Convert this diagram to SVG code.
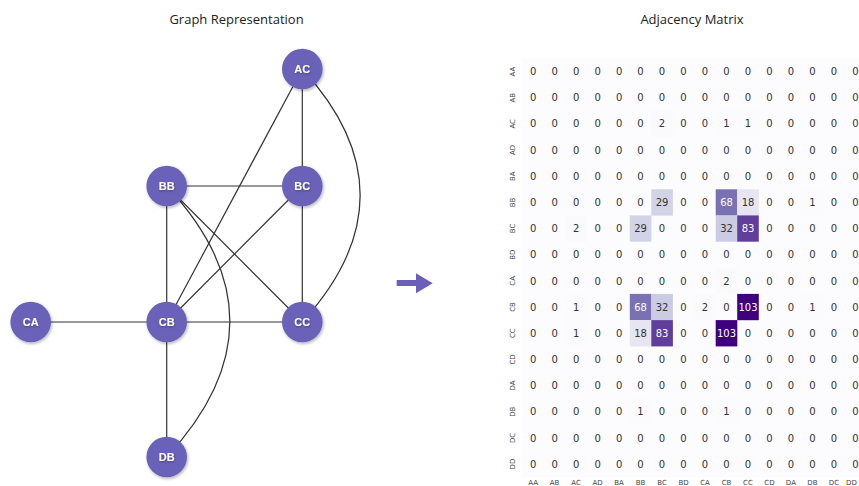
<svg xmlns="http://www.w3.org/2000/svg" width="859" height="486" viewBox="0 0 859 486">
<defs>
<filter id="sh" x="-50%" y="-50%" width="200%" height="200%"><feDropShadow dx="1" dy="1.5" stdDeviation="1.5" flood-color="#000" flood-opacity="0.3"/></filter>
<filter id="tsh" x="-50%" y="-50%" width="200%" height="200%"><feDropShadow dx="0.5" dy="1" stdDeviation="1" flood-color="#000" flood-opacity="0.35"/></filter>
</defs>
<style>
.title{font-family:"Open Sans","Liberation Sans",sans-serif;font-size:13px;fill:#222;text-anchor:middle}
.node circle{fill:#6b62b8;filter:url(#sh)}
.node text{font-family:"Liberation Sans",Arial,sans-serif;font-weight:bold;font-size:11px;fill:#fff;text-anchor:middle;filter:url(#tsh)}
.edge{stroke:#333;stroke-width:1.2;fill:none}
.num{font-family:"DejaVu Sans",sans-serif;font-size:10px;fill:#333;text-anchor:middle}
.w{fill:#fff}
.lab{font-family:"DejaVu Sans",sans-serif;font-size:7px;fill:#444;text-anchor:middle}
</style>
<rect width="859" height="486" fill="#fff"/>
<text class="title" x="236.5" y="24">Graph Representation</text>
<text class="title" x="692" y="24">Adjacency Matrix</text>

<g id="connectors">
<line class="edge" x1="302.3" y1="69" x2="302.3" y2="186"/>
<line class="edge" x1="302.3" y1="69" x2="166.7" y2="322"/>
<path class="edge" d="M302.3,69 Q418,195 302.3,322"/>
<line class="edge" x1="166.7" y1="186" x2="302.3" y2="186"/>
<line class="edge" x1="166.7" y1="186" x2="166.7" y2="322"/>
<line class="edge" x1="166.7" y1="186" x2="302.3" y2="322"/>
<path class="edge" d="M166.7,186 Q293,321 166.7,457"/>
<line class="edge" x1="302.3" y1="186" x2="166.7" y2="322"/>
<line class="edge" x1="302.3" y1="186" x2="302.3" y2="322"/>
<line class="edge" x1="30.7" y1="322" x2="166.7" y2="322"/>
<line class="edge" x1="166.7" y1="322" x2="302.3" y2="322"/>
<line class="edge" x1="166.7" y1="322" x2="166.7" y2="457"/>
</g>

<g id="AC" class="node"><circle cx="302.3" cy="69" r="20.3"/><text x="302.3" y="73.2">AC</text></g>
<g id="BB" class="node"><circle cx="166.7" cy="186" r="20.3"/><text x="166.7" y="190.2">BB</text></g>
<g id="BC" class="node"><circle cx="302.3" cy="186" r="20.3"/><text x="302.3" y="190.2">BC</text></g>
<g id="CA" class="node"><circle cx="30.7" cy="322" r="20.3"/><text x="30.7" y="326.2">CA</text></g>
<g id="CB" class="node"><circle cx="166.7" cy="322" r="20.3"/><text x="166.7" y="326.2">CB</text></g>
<g id="CC" class="node"><circle cx="302.3" cy="322" r="20.3"/><text x="302.3" y="326.2">CC</text></g>
<g id="DB" class="node"><circle cx="166.7" cy="457" r="20.3"/><text x="166.7" y="461.2">DB</text></g>

<g id="arrow" fill="#6a5fba">
<rect x="396.7" y="280" width="20" height="6"/>
<polygon points="416,273.3 432.7,283.2 416,293.3"/>
</g>

<g id="matrix">
<rect x="522.4" y="58.4" width="344" height="418.7" fill="#fcfbfd"/>
<g>
<rect x="651.3" y="110.7" width="21.6" height="26.3" fill="#faf9fc"/>
<rect x="715.7" y="110.7" width="21.6" height="26.3" fill="#fbfafc"/>
<rect x="737.2" y="110.7" width="21.6" height="26.3" fill="#fbfafc"/>
<rect x="651.3" y="189.3" width="21.6" height="26.3" fill="#d2d3e7"/>
<rect x="715.7" y="189.3" width="21.6" height="26.3" fill="#7a71b4"/>
<rect x="737.2" y="189.3" width="21.6" height="26.3" fill="#e7e5f1"/>
<rect x="801.6" y="189.3" width="21.6" height="26.3" fill="#fbfafc"/>
<rect x="565.4" y="215.4" width="21.6" height="26.3" fill="#faf9fc"/>
<rect x="629.8" y="215.4" width="21.6" height="26.3" fill="#d2d3e7"/>
<rect x="715.7" y="215.4" width="21.6" height="26.3" fill="#cbcce4"/>
<rect x="737.2" y="215.4" width="21.6" height="26.3" fill="#603e9a"/>
<rect x="715.7" y="267.8" width="21.6" height="26.3" fill="#faf9fc"/>
<rect x="565.4" y="293.9" width="21.6" height="26.3" fill="#fbfafc"/>
<rect x="629.8" y="293.9" width="21.6" height="26.3" fill="#7a71b4"/>
<rect x="651.3" y="293.9" width="21.6" height="26.3" fill="#cbcce4"/>
<rect x="694.2" y="293.9" width="21.6" height="26.3" fill="#faf9fc"/>
<rect x="737.2" y="293.9" width="21.6" height="26.3" fill="#3f007d"/>
<rect x="801.6" y="293.9" width="21.6" height="26.3" fill="#fbfafc"/>
<rect x="565.4" y="320.1" width="21.6" height="26.3" fill="#fbfafc"/>
<rect x="629.8" y="320.1" width="21.6" height="26.3" fill="#e7e5f1"/>
<rect x="651.3" y="320.1" width="21.6" height="26.3" fill="#603e9a"/>
<rect x="715.7" y="320.1" width="21.6" height="26.3" fill="#3f007d"/>
<rect x="629.8" y="398.6" width="21.6" height="26.3" fill="#fbfafc"/>
<rect x="715.7" y="398.6" width="21.6" height="26.3" fill="#fbfafc"/>
</g>
<g class="num">
<text y="75.1"><tspan x="533.1">0</tspan><tspan x="554.6">0</tspan><tspan x="576.1">0</tspan><tspan x="597.6">0</tspan><tspan x="619.1">0</tspan><tspan x="640.5">0</tspan><tspan x="662">0</tspan><tspan x="683.5">0</tspan><tspan x="705">0</tspan><tspan x="726.5">0</tspan><tspan x="748">0</tspan><tspan x="769.4">0</tspan><tspan x="790.9">0</tspan><tspan x="812.4">0</tspan><tspan x="833.9">0</tspan><tspan x="855.4">0</tspan></text>
<text y="101.3"><tspan x="533.1">0</tspan><tspan x="554.6">0</tspan><tspan x="576.1">0</tspan><tspan x="597.6">0</tspan><tspan x="619.1">0</tspan><tspan x="640.5">0</tspan><tspan x="662">0</tspan><tspan x="683.5">0</tspan><tspan x="705">0</tspan><tspan x="726.5">0</tspan><tspan x="748">0</tspan><tspan x="769.4">0</tspan><tspan x="790.9">0</tspan><tspan x="812.4">0</tspan><tspan x="833.9">0</tspan><tspan x="855.4">0</tspan></text>
<text y="127.4"><tspan x="533.1">0</tspan><tspan x="554.6">0</tspan><tspan x="576.1">0</tspan><tspan x="597.6">0</tspan><tspan x="619.1">0</tspan><tspan x="640.5">0</tspan><tspan x="662">2</tspan><tspan x="683.5">0</tspan><tspan x="705">0</tspan><tspan x="726.5">1</tspan><tspan x="748">1</tspan><tspan x="769.4">0</tspan><tspan x="790.9">0</tspan><tspan x="812.4">0</tspan><tspan x="833.9">0</tspan><tspan x="855.4">0</tspan></text>
<text y="153.6"><tspan x="533.1">0</tspan><tspan x="554.6">0</tspan><tspan x="576.1">0</tspan><tspan x="597.6">0</tspan><tspan x="619.1">0</tspan><tspan x="640.5">0</tspan><tspan x="662">0</tspan><tspan x="683.5">0</tspan><tspan x="705">0</tspan><tspan x="726.5">0</tspan><tspan x="748">0</tspan><tspan x="769.4">0</tspan><tspan x="790.9">0</tspan><tspan x="812.4">0</tspan><tspan x="833.9">0</tspan><tspan x="855.4">0</tspan></text>
<text y="179.8"><tspan x="533.1">0</tspan><tspan x="554.6">0</tspan><tspan x="576.1">0</tspan><tspan x="597.6">0</tspan><tspan x="619.1">0</tspan><tspan x="640.5">0</tspan><tspan x="662">0</tspan><tspan x="683.5">0</tspan><tspan x="705">0</tspan><tspan x="726.5">0</tspan><tspan x="748">0</tspan><tspan x="769.4">0</tspan><tspan x="790.9">0</tspan><tspan x="812.4">0</tspan><tspan x="833.9">0</tspan><tspan x="855.4">0</tspan></text>
<text y="206"><tspan x="533.1">0</tspan><tspan x="554.6">0</tspan><tspan x="576.1">0</tspan><tspan x="597.6">0</tspan><tspan x="619.1">0</tspan><tspan x="640.5">0</tspan><tspan x="662">29</tspan><tspan x="683.5">0</tspan><tspan x="705">0</tspan><tspan x="726.5" class="w">68</tspan><tspan x="748">18</tspan><tspan x="769.4">0</tspan><tspan x="790.9">0</tspan><tspan x="812.4">1</tspan><tspan x="833.9">0</tspan><tspan x="855.4">0</tspan></text>
<text y="232.1"><tspan x="533.1">0</tspan><tspan x="554.6">0</tspan><tspan x="576.1">2</tspan><tspan x="597.6">0</tspan><tspan x="619.1">0</tspan><tspan x="640.5">29</tspan><tspan x="662">0</tspan><tspan x="683.5">0</tspan><tspan x="705">0</tspan><tspan x="726.5">32</tspan><tspan x="748" class="w">83</tspan><tspan x="769.4">0</tspan><tspan x="790.9">0</tspan><tspan x="812.4">0</tspan><tspan x="833.9">0</tspan><tspan x="855.4">0</tspan></text>
<text y="258.3"><tspan x="533.1">0</tspan><tspan x="554.6">0</tspan><tspan x="576.1">0</tspan><tspan x="597.6">0</tspan><tspan x="619.1">0</tspan><tspan x="640.5">0</tspan><tspan x="662">0</tspan><tspan x="683.5">0</tspan><tspan x="705">0</tspan><tspan x="726.5">0</tspan><tspan x="748">0</tspan><tspan x="769.4">0</tspan><tspan x="790.9">0</tspan><tspan x="812.4">0</tspan><tspan x="833.9">0</tspan><tspan x="855.4">0</tspan></text>
<text y="284.5"><tspan x="533.1">0</tspan><tspan x="554.6">0</tspan><tspan x="576.1">0</tspan><tspan x="597.6">0</tspan><tspan x="619.1">0</tspan><tspan x="640.5">0</tspan><tspan x="662">0</tspan><tspan x="683.5">0</tspan><tspan x="705">0</tspan><tspan x="726.5">2</tspan><tspan x="748">0</tspan><tspan x="769.4">0</tspan><tspan x="790.9">0</tspan><tspan x="812.4">0</tspan><tspan x="833.9">0</tspan><tspan x="855.4">0</tspan></text>
<text y="310.6"><tspan x="533.1">0</tspan><tspan x="554.6">0</tspan><tspan x="576.1">1</tspan><tspan x="597.6">0</tspan><tspan x="619.1">0</tspan><tspan x="640.5" class="w">68</tspan><tspan x="662">32</tspan><tspan x="683.5">0</tspan><tspan x="705">2</tspan><tspan x="726.5">0</tspan><tspan x="748" class="w">103</tspan><tspan x="769.4">0</tspan><tspan x="790.9">0</tspan><tspan x="812.4">1</tspan><tspan x="833.9">0</tspan><tspan x="855.4">0</tspan></text>
<text y="336.8"><tspan x="533.1">0</tspan><tspan x="554.6">0</tspan><tspan x="576.1">1</tspan><tspan x="597.6">0</tspan><tspan x="619.1">0</tspan><tspan x="640.5">18</tspan><tspan x="662" class="w">83</tspan><tspan x="683.5">0</tspan><tspan x="705">0</tspan><tspan x="726.5" class="w">103</tspan><tspan x="748">0</tspan><tspan x="769.4">0</tspan><tspan x="790.9">0</tspan><tspan x="812.4">0</tspan><tspan x="833.9">0</tspan><tspan x="855.4">0</tspan></text>
<text y="363"><tspan x="533.1">0</tspan><tspan x="554.6">0</tspan><tspan x="576.1">0</tspan><tspan x="597.6">0</tspan><tspan x="619.1">0</tspan><tspan x="640.5">0</tspan><tspan x="662">0</tspan><tspan x="683.5">0</tspan><tspan x="705">0</tspan><tspan x="726.5">0</tspan><tspan x="748">0</tspan><tspan x="769.4">0</tspan><tspan x="790.9">0</tspan><tspan x="812.4">0</tspan><tspan x="833.9">0</tspan><tspan x="855.4">0</tspan></text>
<text y="389.1"><tspan x="533.1">0</tspan><tspan x="554.6">0</tspan><tspan x="576.1">0</tspan><tspan x="597.6">0</tspan><tspan x="619.1">0</tspan><tspan x="640.5">0</tspan><tspan x="662">0</tspan><tspan x="683.5">0</tspan><tspan x="705">0</tspan><tspan x="726.5">0</tspan><tspan x="748">0</tspan><tspan x="769.4">0</tspan><tspan x="790.9">0</tspan><tspan x="812.4">0</tspan><tspan x="833.9">0</tspan><tspan x="855.4">0</tspan></text>
<text y="415.3"><tspan x="533.1">0</tspan><tspan x="554.6">0</tspan><tspan x="576.1">0</tspan><tspan x="597.6">0</tspan><tspan x="619.1">0</tspan><tspan x="640.5">1</tspan><tspan x="662">0</tspan><tspan x="683.5">0</tspan><tspan x="705">0</tspan><tspan x="726.5">1</tspan><tspan x="748">0</tspan><tspan x="769.4">0</tspan><tspan x="790.9">0</tspan><tspan x="812.4">0</tspan><tspan x="833.9">0</tspan><tspan x="855.4">0</tspan></text>
<text y="441.5"><tspan x="533.1">0</tspan><tspan x="554.6">0</tspan><tspan x="576.1">0</tspan><tspan x="597.6">0</tspan><tspan x="619.1">0</tspan><tspan x="640.5">0</tspan><tspan x="662">0</tspan><tspan x="683.5">0</tspan><tspan x="705">0</tspan><tspan x="726.5">0</tspan><tspan x="748">0</tspan><tspan x="769.4">0</tspan><tspan x="790.9">0</tspan><tspan x="812.4">0</tspan><tspan x="833.9">0</tspan><tspan x="855.4">0</tspan></text>
<text y="467.7"><tspan x="533.1">0</tspan><tspan x="554.6">0</tspan><tspan x="576.1">0</tspan><tspan x="597.6">0</tspan><tspan x="619.1">0</tspan><tspan x="640.5">0</tspan><tspan x="662">0</tspan><tspan x="683.5">0</tspan><tspan x="705">0</tspan><tspan x="726.5">0</tspan><tspan x="748">0</tspan><tspan x="769.4">0</tspan><tspan x="790.9">0</tspan><tspan x="812.4">0</tspan><tspan x="833.9">0</tspan><tspan x="855.4">0</tspan></text>
</g>
<g class="lab">
<text transform="translate(514.5,71.5) rotate(-90)">AA</text>
<text transform="translate(514.5,97.7) rotate(-90)">AB</text>
<text transform="translate(514.5,123.8) rotate(-90)">AC</text>
<text transform="translate(514.5,150) rotate(-90)">AD</text>
<text transform="translate(514.5,176.2) rotate(-90)">BA</text>
<text transform="translate(514.5,202.4) rotate(-90)">BB</text>
<text transform="translate(514.5,228.5) rotate(-90)">BC</text>
<text transform="translate(514.5,254.7) rotate(-90)">BD</text>
<text transform="translate(514.5,280.9) rotate(-90)">CA</text>
<text transform="translate(514.5,307) rotate(-90)">CB</text>
<text transform="translate(514.5,333.2) rotate(-90)">CC</text>
<text transform="translate(514.5,359.4) rotate(-90)">CD</text>
<text transform="translate(514.5,385.5) rotate(-90)">DA</text>
<text transform="translate(514.5,411.7) rotate(-90)">DB</text>
<text transform="translate(514.5,437.9) rotate(-90)">DC</text>
<text transform="translate(514.5,464.1) rotate(-90)">DD</text>
<text y="484.5"><tspan x="533.1">AA</tspan><tspan x="554.6">AB</tspan><tspan x="576.1">AC</tspan><tspan x="597.6">AD</tspan><tspan x="619.1">BA</tspan><tspan x="640.5">BB</tspan><tspan x="662">BC</tspan><tspan x="683.5">BD</tspan><tspan x="705">CA</tspan><tspan x="726.5">CB</tspan><tspan x="748">CC</tspan><tspan x="769.4">CD</tspan><tspan x="790.9">DA</tspan><tspan x="812.4">DB</tspan><tspan x="833.9">DC</tspan><tspan x="851.5">DD</tspan></text>
</g>
</g>
</svg>
